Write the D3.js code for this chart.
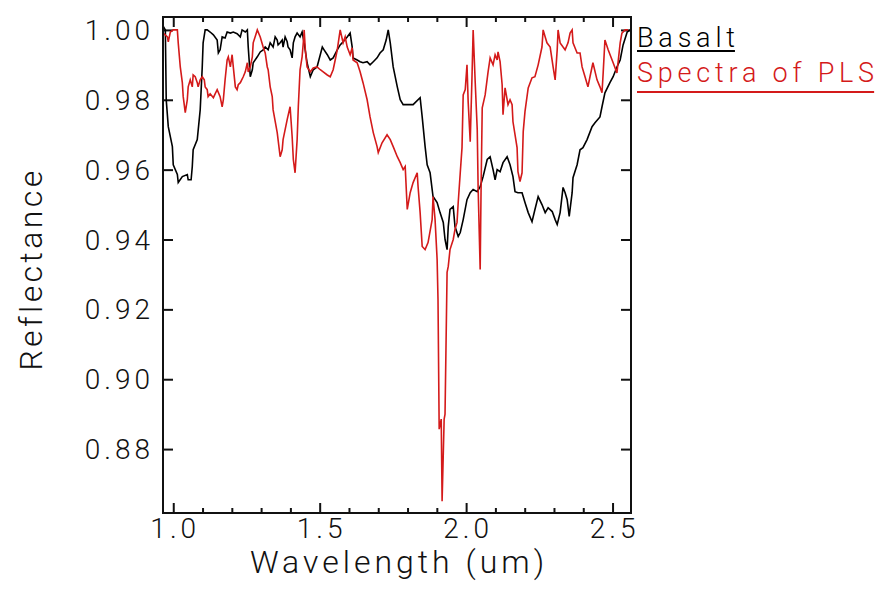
<!DOCTYPE html>
<html>
<head>
<meta charset="utf-8">
<script src="https://cdn.jsdelivr.net/npm/d3@7/dist/d3.min.js"></script>
<style>
  html, body { margin: 0; padding: 0; background: #fff; }
  svg { display: block; }
  text { font-family: Roboto, "DejaVu Sans", sans-serif; font-weight: 300; fill: #111; }
</style>
</head>
<body>
<svg id="chart" width="886" height="589"></svg>
<script>
// Basalt reflectance spectrum (wavelength in um, reflectance)
const basaltWl = [0.966,0.973,0.976,0.983,0.997,1.000,1.014,1.017,1.031,1.048,1.051,1.061,1.065,1.068,1.082,1.092,1.099,1.102,1.109,1.116,1.126,1.137,1.150,1.154,1.160,1.167,1.177,1.184,1.195,1.205,1.218,1.229,1.235,1.246,1.253,1.256,1.263,1.270,1.273,1.287,1.297,1.307,1.314,1.324,1.331,1.341,1.348,1.355,1.358,1.365,1.372,1.375,1.382,1.389,1.392,1.399,1.406,1.410,1.416,1.423,1.433,1.440,1.447,1.457,1.468,1.478,1.491,1.509,1.515,1.526,1.536,1.546,1.560,1.570,1.580,1.594,1.604,1.611,1.614,1.628,1.638,1.648,1.662,1.672,1.683,1.696,1.706,1.717,1.727,1.734,1.741,1.751,1.765,1.775,1.785,1.802,1.819,1.843,1.850,1.860,1.867,1.877,1.887,1.901,1.911,1.922,1.928,1.935,1.939,1.945,1.956,1.962,1.973,1.980,1.990,2.003,2.014,2.024,2.038,2.048,2.058,2.072,2.082,2.092,2.099,2.106,2.116,2.126,2.140,2.150,2.160,2.167,2.177,2.191,2.201,2.212,2.225,2.235,2.246,2.259,2.270,2.280,2.294,2.304,2.311,2.321,2.331,2.338,2.345,2.352,2.362,2.365,2.379,2.389,2.399,2.413,2.430,2.440,2.457,2.464,2.474,2.491,2.502,2.515,2.526,2.536,2.550,2.560];
const basaltRefl = [1.001,1.000,0.980,0.9723,0.9666,0.9614,0.9586,0.9563,0.9580,0.9586,0.9571,0.9571,0.9609,0.9657,0.9686,0.9771,0.9894,0.9963,1.000,1.000,0.9994,0.9986,0.9971,0.9934,0.9943,0.9980,0.9977,0.9994,0.9991,0.9994,0.9989,0.9980,1.000,0.9994,1.000,0.9951,0.9866,0.9886,0.9906,0.9923,0.9937,0.9943,0.9951,0.9943,0.9963,0.9951,0.9980,0.9971,0.9957,0.9963,0.9971,0.9951,0.9980,0.9966,0.9951,0.9943,0.9920,0.9963,0.9980,0.9991,0.9980,0.9994,0.9963,0.9906,0.9866,0.9886,0.9894,0.9951,0.9943,0.9929,0.9914,0.9920,0.9943,0.9957,0.9966,0.9980,0.9991,0.9951,0.9920,0.9914,0.9909,0.9906,0.9909,0.9900,0.9909,0.9920,0.9934,0.9943,0.9971,1.000,0.9963,0.9894,0.9837,0.9800,0.9786,0.9786,0.9786,0.9806,0.9751,0.9666,0.9614,0.9591,0.9523,0.9506,0.9477,0.9449,0.9400,0.9371,0.9437,0.9486,0.9494,0.9437,0.9409,0.9420,0.9457,0.9514,0.9534,0.9543,0.9537,0.9551,0.9580,0.9629,0.9637,0.9600,0.9571,0.9600,0.9594,0.9620,0.9637,0.9614,0.9580,0.9537,0.9534,0.9534,0.9506,0.9477,0.9451,0.9486,0.9523,0.9500,0.9477,0.9491,0.9480,0.9457,0.9443,0.9477,0.9549,0.9534,0.9514,0.9466,0.9534,0.9577,0.9614,0.9657,0.9663,0.9686,0.9723,0.9734,0.9751,0.9780,0.9820,0.9849,0.9866,0.9894,0.9914,0.9957,0.9994,1.000];

// Spectra of PLS (wavelength in um, reflectance)
const plsWl = [0.966,0.980,0.983,0.990,1.000,1.014,1.017,1.024,1.031,1.034,1.041,1.048,1.051,1.058,1.065,1.068,1.075,1.082,1.085,1.092,1.099,1.106,1.109,1.116,1.119,1.126,1.137,1.143,1.150,1.160,1.167,1.171,1.177,1.184,1.188,1.195,1.201,1.205,1.212,1.218,1.222,1.229,1.239,1.246,1.253,1.256,1.263,1.270,1.273,1.287,1.297,1.307,1.314,1.321,1.324,1.331,1.338,1.341,1.355,1.365,1.372,1.375,1.389,1.399,1.406,1.410,1.416,1.423,1.427,1.433,1.440,1.444,1.447,1.451,1.457,1.468,1.478,1.491,1.502,1.512,1.526,1.536,1.546,1.553,1.560,1.570,1.580,1.587,1.594,1.604,1.611,1.614,1.628,1.638,1.648,1.662,1.672,1.683,1.696,1.700,1.713,1.730,1.741,1.751,1.765,1.775,1.785,1.792,1.799,1.809,1.819,1.833,1.836,1.843,1.850,1.860,1.870,1.884,1.887,1.894,1.901,1.904,1.908,1.915,1.918,1.925,1.928,1.935,1.939,1.945,1.956,1.962,1.969,1.973,1.980,1.986,1.990,1.997,2.003,2.007,2.014,2.020,2.024,2.031,2.038,2.041,2.048,2.051,2.055,2.065,2.075,2.082,2.092,2.099,2.106,2.109,2.116,2.123,2.126,2.133,2.143,2.150,2.157,2.160,2.174,2.177,2.184,2.191,2.195,2.201,2.212,2.225,2.235,2.246,2.259,2.263,2.270,2.276,2.287,2.297,2.304,2.311,2.314,2.321,2.331,2.338,2.348,2.355,2.362,2.365,2.379,2.389,2.396,2.406,2.416,2.423,2.433,2.447,2.457,2.464,2.468,2.474,2.485,2.502,2.515,2.526,2.532,2.543,2.553];
const plsRefl = [0.9991,0.9980,0.9966,0.9994,1.000,1.000,0.9963,0.9894,0.9849,0.9809,0.9763,0.9800,0.9837,0.9857,0.9837,0.9871,0.9866,0.9849,0.9837,0.9857,0.9866,0.9857,0.9837,0.9829,0.9809,0.9817,0.9806,0.9817,0.9829,0.9809,0.9780,0.9800,0.9857,0.9914,0.9923,0.9894,0.9929,0.9894,0.9837,0.9829,0.9843,0.9849,0.9866,0.9880,0.9906,0.9880,0.9894,0.9923,0.9963,1.000,0.9980,0.9951,0.9934,0.9894,0.9886,0.9837,0.9809,0.9771,0.9706,0.9637,0.9657,0.9686,0.9743,0.9780,0.9694,0.9629,0.9591,0.9686,0.9780,0.9886,0.9923,0.9963,1.000,0.9943,0.9894,0.9880,0.9891,0.9894,0.9886,0.9880,0.9871,0.9866,0.9886,0.9914,0.9943,1.000,0.9963,0.9980,0.9951,0.9929,0.9949,0.9914,0.9906,0.9880,0.9849,0.9800,0.9751,0.9706,0.9666,0.9649,0.9677,0.9700,0.9686,0.9666,0.9637,0.9620,0.9600,0.9609,0.9486,0.9534,0.9563,0.9591,0.9551,0.9477,0.9380,0.9371,0.9391,0.9457,0.9523,0.9457,0.9343,0.9229,0.8857,0.8886,0.8651,0.8886,0.8900,0.9306,0.9323,0.9371,0.9400,0.9429,0.9449,0.9506,0.9591,0.9663,0.9814,0.9829,0.9900,0.9794,0.9680,0.9863,1.000,0.9851,0.9714,0.9549,0.9314,0.9540,0.9777,0.9814,0.9880,0.9920,0.9900,0.9929,0.9914,0.9937,0.9909,0.9843,0.9757,0.9834,0.9786,0.9800,0.9786,0.9737,0.9663,0.9594,0.9566,0.9591,0.9709,0.9766,0.9834,0.9863,0.9866,0.9900,0.9951,1.000,0.9980,0.9963,0.9951,0.9894,0.9857,0.9943,1.000,0.9963,0.9951,0.9943,0.9963,0.9991,1.000,0.9963,0.9934,0.9934,0.9894,0.9866,0.9837,0.9866,0.9906,0.9857,0.9837,0.9820,0.9877,0.9971,0.9943,0.9906,0.9877,0.9963,0.9991,1.000,1.000];

// Axis ticks
const xMajorTicks = [1.0, 1.5, 2.0, 2.5];
const xMinorTicks = [1.1, 1.2, 1.3, 1.4, 1.6, 1.7, 1.8, 1.9, 2.1, 2.2, 2.3, 2.4];
const yTicks = [0.88, 0.90, 0.92, 0.94, 0.96, 0.98, 1.00];

const xLabel = "Wavelength (um)";
const yLabel = "Reflectance";
const seriesNames = ["Basalt", "Spectra of PLS"];
const seriesColors = ["#000000", "#d41a1a"];

const svg = d3.select("#chart");
const plot = { left: 163, right: 631, top: 17, bottom: 513 };

const x = d3.scaleLinear().domain([0.965, 2.563]).range([plot.left, plot.right]);
const y = d3.scaleLinear().domain([0.8617, 1.0037]).range([plot.bottom, plot.top]);

// Ticks on all four sides, pointing into the plot
const noLabel = () => "";
svg.append("g").attr("transform", `translate(0,${plot.bottom})`)
  .call(d3.axisBottom(x).tickValues(xMajorTicks).tickSize(-10).tickFormat(noLabel));
svg.append("g").attr("transform", `translate(0,${plot.bottom})`)
  .call(d3.axisBottom(x).tickValues(xMinorTicks).tickSize(-5).tickFormat(noLabel));
svg.append("g").attr("transform", `translate(0,${plot.top})`)
  .call(d3.axisTop(x).tickValues(xMajorTicks).tickSize(-10).tickFormat(noLabel));
svg.append("g").attr("transform", `translate(0,${plot.top})`)
  .call(d3.axisTop(x).tickValues(xMinorTicks).tickSize(-5).tickFormat(noLabel));
svg.append("g").attr("transform", `translate(${plot.left},0)`)
  .call(d3.axisLeft(y).tickValues(yTicks).tickSize(-10).tickFormat(noLabel));
svg.append("g").attr("transform", `translate(${plot.right},0)`)
  .call(d3.axisRight(y).tickValues(yTicks).tickSize(-10).tickFormat(noLabel));
svg.selectAll(".domain").remove();
svg.selectAll(".tick line").attr("stroke", "#111").attr("stroke-width", 2);

// Spectra
const line = d3.line().x(d => x(d[0])).y(d => y(d[1]));
svg.append("clipPath").attr("id", "plotclip").append("rect")
  .attr("x", plot.left).attr("y", plot.top)
  .attr("width", plot.right - plot.left).attr("height", plot.bottom - plot.top);
const series = [
  d3.zip(basaltWl, basaltRefl),
  d3.zip(plsWl, plsRefl)
];
series.forEach((pts, i) => {
  svg.append("path").datum(pts)
    .attr("clip-path", "url(#plotclip)")
    .attr("fill", "none")
    .attr("stroke", seriesColors[i])
    .attr("stroke-width", 1.6)
    .attr("stroke-linejoin", "miter")
    .attr("d", line);
});

// Frame
svg.append("rect")
  .attr("x", plot.left).attr("y", plot.top)
  .attr("width", plot.right - plot.left).attr("height", plot.bottom - plot.top)
  .attr("fill", "none").attr("stroke", "#111").attr("stroke-width", 2);

// Tick labels
svg.append("g").selectAll("text").data(xMajorTicks).join("text")
  .attr("x", d => x(d) + 2).attr("y", 538)
  .attr("text-anchor", "middle")
  .style("font-size", "28px").style("letter-spacing", "4px")
  .text(d => d3.format(".1f")(d));
svg.append("g").selectAll("text").data(yTicks).join("text")
  .attr("x", 154).attr("y", d => y(d) + 10)
  .attr("text-anchor", "end")
  .style("font-size", "28px").style("letter-spacing", "4px")
  .text(d => d3.format(".2f")(d));

// Axis titles
svg.append("text")
  .attr("x", (plot.left + plot.right) / 2 + 2).attr("y", 573)
  .attr("text-anchor", "middle")
  .style("font-size", "32px").style("letter-spacing", "4px")
  .text(xLabel);
svg.append("text")
  .attr("transform", `translate(42,${(plot.top + plot.bottom) / 2 + 4}) rotate(-90)`)
  .attr("text-anchor", "middle")
  .style("font-size", "32px").style("letter-spacing", "3.4px")
  .text(yLabel);

// Legend: underlined series names to the right of the plot
const legend = svg.append("g");
seriesNames.forEach((name, i) => {
  const baseY = 47 + i * 35;
  const t = legend.append("text")
    .attr("x", 637).attr("y", baseY)
    .style("font-size", "27px").style("letter-spacing", "4.8px")
    .style("fill", seriesColors[i])
    .text(name);
  const w = t.node().getComputedTextLength() - 4.8;
  legend.append("line")
    .attr("x1", 637).attr("x2", 637 + w)
    .attr("y1", baseY + 4 + i * 6).attr("y2", baseY + 4 + i * 6)
    .attr("stroke", seriesColors[i]).attr("stroke-width", 2);
});
</script>
</body>
</html>
